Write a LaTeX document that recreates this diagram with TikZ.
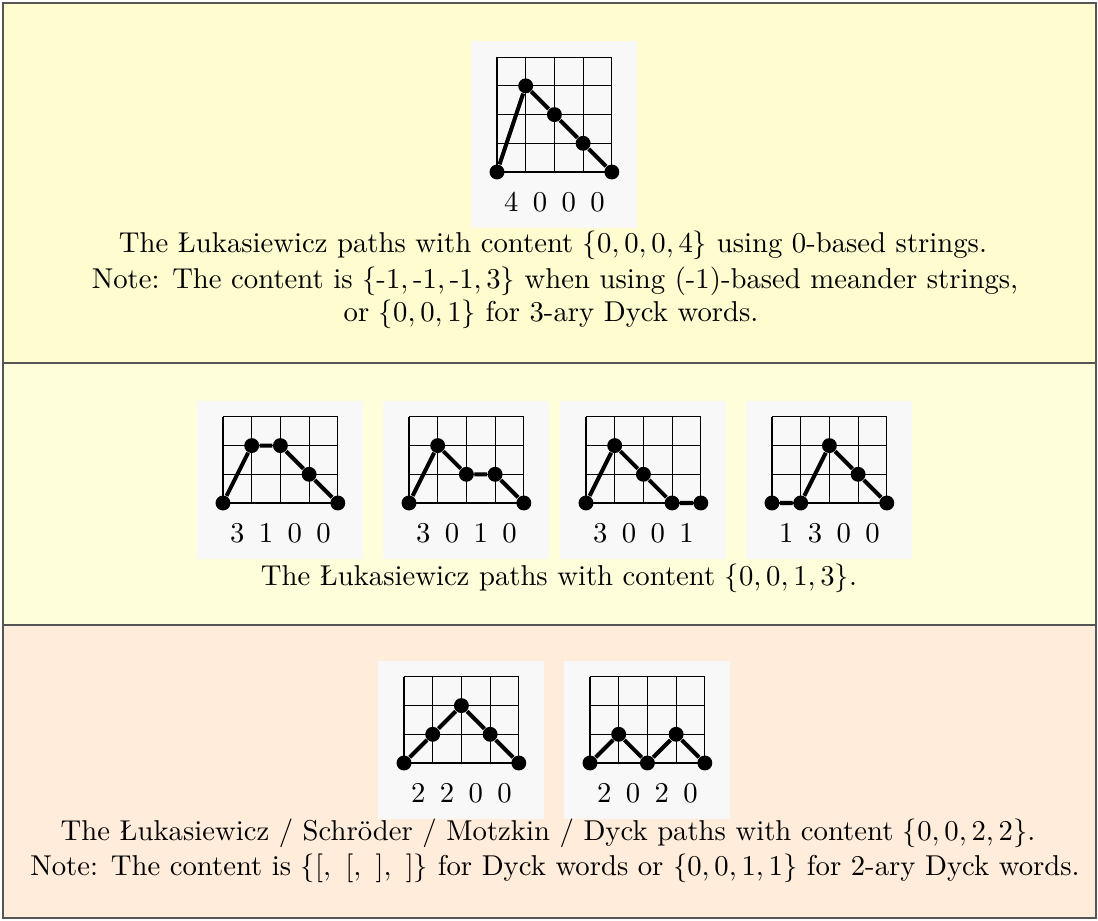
\documentclass[tikz,border=0pt]{standalone}
\definecolor{secA}{RGB}{255,253,208}
\definecolor{secB}{RGB}{255,254,218}
\definecolor{secC}{RGB}{255,236,218}
\definecolor{panelgray}{RGB}{248,248,248}
\definecolor{framegray}{RGB}{85,85,85}
\tikzset{
 gridline/.style={line width=0.4pt, black},
 pathline/.style={line width=1.4pt, black},
 dot/.style={circle, fill=black, inner sep=0pt, minimum size=5.2pt},
 digit/.style={inner sep=0pt},
 caption/.style={anchor=base, inner sep=0pt},
 panel/.style={fill=panelgray},
 frame/.style={draw=framegray, line width=0.55pt},
}
\newcommand\lukpath[6]{%
 \begin{scope}[shift={(#2,#3)}]
 \begin{scope}[x=10pt,y=10pt]
  \fill[panel] (-0.9,-1.95) rectangle (4.87,#4+0.56);
  \draw[gridline] (0,0) grid[step=10pt] (4,#4);
  \foreach \h [count=\k from 0] in {#5} \node[dot] (#1-\k) at (\k,\h) {};
  \draw[pathline] (#1-0) -- (#1-1) -- (#1-2) -- (#1-3) -- (#1-4);
  \foreach \d [count=\k from 0] in {#6} \node[digit] (#1-d\k) at (\k+0.5,-1.05) {$\d$};
 \end{scope}
 \end{scope}}
\begin{document}
\begin{tikzpicture}[x=0.3484pt,y=-0.3484pt]
\useasboundingbox (0,0) rectangle (1098,921);
\fill[secA] (3,3) rectangle (1096,363);
\fill[secB] (3,363) rectangle (1096,625);
\fill[secC] (3,625) rectangle (1096,918);
\draw[frame] (3,363) -- (1096,363);
\draw[frame] (3,625) -- (1096,625);
\draw[frame] (3,3) rectangle (1096,918);

\lukpath{pa}{497}{172}{4}{0,3,2,1,0}{4,0,0,0}

\lukpath{pb}{223}{503}{3}{0,2,2,1,0}{3,1,0,0}
\lukpath{pc}{409}{503}{3}{0,2,1,1,0}{3,0,1,0}
\lukpath{pd}{586}{503}{3}{0,2,1,0,0}{3,0,0,1}
\lukpath{pe}{772}{503}{3}{0,0,2,1,0}{1,3,0,0}

\lukpath{pf}{404}{763}{3}{0,1,2,1,0}{2,2,0,0}
\lukpath{pg}{590}{763}{3}{0,1,0,1,0}{2,0,2,0}

\node[caption] (t1a) at (553,253) {The Łukasiewicz paths with content $\{0, 0, 0, 4\}$ using 0-based strings.};
\node[caption] (t1b) at (555,288) {Note: The content is $\{\mbox{-}1, \mbox{-}1, \mbox{-}1, 3\}$ when using (-1)-based meander strings,};
\node[caption] (t1c) at (551,322) {or $\{0, 0, 1\}$ for 3-ary Dyck words.};
\node[caption] (t2a) at (559,585) {The Łukasiewicz paths with content $\{0, 0, 1, 3\}$.};
\node[caption] (t3a) at (548,840) {The Łukasiewicz / Schröder / Motzkin / Dyck paths with content $\{0, 0, 2, 2\}$.};
\node[caption] (t3b) at (555,875) {Note: The content is $\{[,\ [,\ ],\ ]\}$ for Dyck words or $\{0, 0, 1, 1\}$ for 2-ary Dyck words.};
\end{tikzpicture}
\end{document}
